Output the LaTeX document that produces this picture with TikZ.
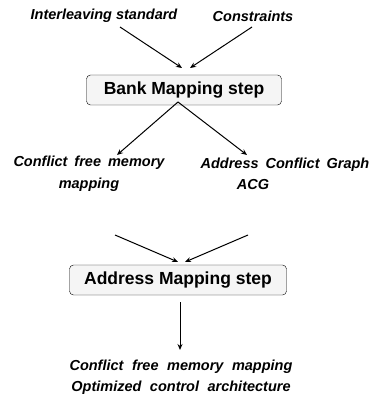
\documentclass[tikz,border=0pt]{standalone}
\usepackage{fontspec}
\setmainfont{Liberation Sans}
\usetikzlibrary{arrows.meta, positioning}
\newcommand\wordgap[1]{\spaceskip=#1\relax}

\begin{document}
\begin{tikzpicture}[x=1pt, y=-1pt, >={Stealth[length=6pt,width=5pt]},
  lbl/.style={font=\bfseries\itshape\fontsize{14.5}{21.5}\selectfont, align=center, inner sep=1pt},
  wide/.style={font=\bfseries\itshape\fontsize{14.5}{21.5}\selectfont\wordgap{#1}},
  stepbox/.style={draw, rounded corners=4pt, fill=gray!8, minimum height=30pt, font=\bfseries\fontsize{17.5}{20}\selectfont},
  conn/.style={->, line width=1pt}]
\useasboundingbox (0,0) rectangle (381,403);
% inputs
\node[lbl] (il) at (104,16) {Interleaving standard};
\node[lbl] (cs) at (253,16) {Constraints};
\coordinate (ilout) at (120,27);
\coordinate (csout) at (252,27);
% bank mapping
\node[stepbox, minimum width=195pt] (bank) at (184,90) {Bank Mapping step};
\coordinate (bin1) at (182,68);
\coordinate (bin2) at (190,68);
\draw[conn] (ilout) -- (bin1);
\draw[conn] (csout) -- (bin2);
% outputs of bank step
\node[lbl, wide=7pt] (cfm) at (89,174) {Conflict free memory\\mapping};
\node[lbl, wide=7pt] (acg) at (285,174) {Address Conflict Graph\\ACG\hspace*{64pt}};
\coordinate (bout) at (178,102);
\coordinate (cfmin) at (117,155);
\coordinate (acgin) at (247,155);
\draw[conn] (bout) -- (cfmin);
\draw[conn] (bout) -- (acgin);
% address mapping
\node[stepbox, minimum width=217pt] (addr) at (178,280) {Address Mapping step};
\coordinate (cfmout) at (115,235);
\coordinate (acgout) at (248,235);
\coordinate (ain1) at (178,262);
\coordinate (ain2) at (185,262);
\draw[conn] (cfmout) -- (ain1);
\draw[conn] (acgout) -- (ain2);
% result
\node[lbl, wide=8.5pt] (res) at (181,377) {Conflict free memory mapping\\Optimized control architecture};
\coordinate (aout) at (180,302);
\coordinate (resin) at (180,350);
\draw[conn] (aout) -- (resin);
\end{tikzpicture}
\end{document}
